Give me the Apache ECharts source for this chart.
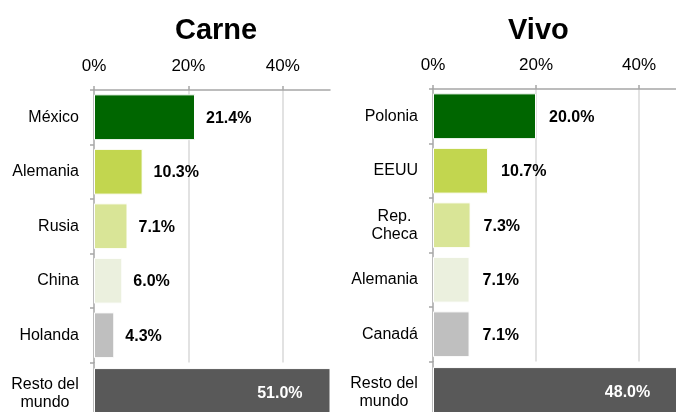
<!DOCTYPE html>
<html>
<head>
<meta charset="utf-8">
<script src="https://cdn.jsdelivr.net/npm/echarts@6/dist/echarts.min.js"></script>
<style>html,body{margin:0;padding:0;background:#fff}#c{width:676px;height:412px}</style>
</head>
<body>
<div id="c"></div>
<script>
// ---- data ----
const carneTitle = 'Carne';
const vivoTitle = 'Vivo';
const carneCategories = ['México', 'Alemania', 'Rusia', 'China', 'Holanda', 'Resto del\nmundo'];
const carneValues = [21.4, 10.3, 7.1, 6.0, 4.3, 51.0];
const vivoCategories = ['Polonia', 'EEUU', 'Rep.\nCheca', 'Alemania', 'Canadá', 'Resto del\nmundo'];
const vivoValues = [20.0, 10.7, 7.3, 7.1, 7.1, 48.0];
const axisTicks = [0, 20, 40];
const axisMax = 50;

// ---- styles ----
const FONT = '"Liberation Sans", Arial, sans-serif';
const palette = ['#006600', '#c2d64f', '#d9e597', '#ebf0de', '#bfbfbf'];
const restColor = '#595959';
const axisGray = '#a6a6a6';

const ctx = document.createElement('canvas').getContext('2d');
ctx.font = '16px ' + FONT;
const rich = {};
function catFormatter(v) {
  if (v.indexOf('\n') < 0) return v;
  const lines = v.split('\n');
  const w = Math.ceil(Math.max.apply(null, lines.map(l => ctx.measureText(l).width)));
  const key = 'w' + w;
  rich[key] = {width: w, align: 'center', fontSize: 16, fontFamily: FONT, color: '#000', lineHeight: 18};
  return lines.map(l => '{' + key + '|' + l + '}').join('\n');
}
// pre-build rich styles
carneCategories.concat(vivoCategories).forEach(catFormatter);

const grids = [
  {left: 94, top: 90, width: 236, height: 272.5},
  {left: 94, top: 362.5, width: 236, height: 62},
  {left: 433, top: 89, width: 257.5, height: 272.5},
  {left: 433, top: 361.5, width: 257.5, height: 62}
].map(g => Object.assign(g, {outerBoundsMode: 'none', containLabel: false}));

function xAxis(gi, visible) {
  return {
    type: 'value', gridIndex: gi, min: 0, max: axisMax, interval: 20, position: 'top',
    show: visible,
    axisLine: {show: true, onZero: false, lineStyle: {color: axisGray, width: 1.5}},
    axisTick: {show: true, length: 4, customValues: axisTicks, lineStyle: {color: axisGray, width: 1.5}},
    axisLabel: {show: true, customValues: axisTicks, formatter: '{value}%', margin: 15,
      fontSize: 17, fontFamily: FONT, color: '#000'},
    splitLine: {show: visible, showMinLine: false, lineStyle: {color: '#d9d9d9', width: 1.5}}
  };
}
function yAxis(gi, cats) {
  return {
    type: 'category', gridIndex: gi, data: cats, inverse: true,
    axisLine: {show: true, onZero: false, lineStyle: {color: axisGray, width: 1.5}},
    axisTick: {show: true, length: 4, lineStyle: {color: axisGray, width: 1.5}},
    axisLabel: {margin: 15, fontSize: 16, fontFamily: FONT, color: '#000', lineHeight: 18,
      formatter: catFormatter, rich: rich},
    splitLine: {show: false}
  };
}
function topSeries(ai, vals, dist) {
  return {
    type: 'bar', xAxisIndex: ai, yAxisIndex: ai, barCategoryGap: '16%',
    data: vals.slice(0, 5).map((v, i) => ({value: v, itemStyle: {color: palette[i]}})),
    itemStyle: {borderColor: '#fff', borderWidth: 1},
    label: {show: true, position: 'right', distance: dist, formatter: p => p.value.toFixed(1) + '%',
      fontSize: 16, fontWeight: 'bold', fontFamily: FONT, color: '#000', offset: [0, 1]},
    animation: false
  };
}
function restSeries(ai, vals, dist) {
  return {
    type: 'bar', xAxisIndex: ai, yAxisIndex: ai, barCategoryGap: '18%', clip: true,
    data: vals.slice(5).map(v => ({value: v, itemStyle: {color: restColor}})),
    itemStyle: {borderColor: '#fff', borderWidth: 1},
    label: {show: true, position: 'insideRight', distance: dist, formatter: p => p.value.toFixed(1) + '%',
      fontSize: 16, fontWeight: 'bold', fontFamily: FONT, color: '#fff'},
    animation: false
  };
}

const option = {
  backgroundColor: '#fff',
  animation: false,
  title: [
    {text: carneTitle, left: 170, top: 11, textStyle: {fontSize: 29, fontWeight: 'bold', fontFamily: FONT, color: '#000'}},
    {text: vivoTitle, left: 503, top: 11, textStyle: {fontSize: 29, fontWeight: 'bold', fontFamily: FONT, color: '#000'}}
  ],
  grid: grids,
  xAxis: [xAxis(0, true), xAxis(1, false), xAxis(2, true), xAxis(3, false)],
  yAxis: [
    yAxis(0, carneCategories.slice(0, 5)), yAxis(1, carneCategories.slice(5)),
    yAxis(2, vivoCategories.slice(0, 5)), yAxis(3, vivoCategories.slice(5))
  ],
  series: [
    topSeries(0, carneValues, 11), restSeries(1, carneValues, 28),
    topSeries(2, vivoValues, 13), restSeries(3, vivoValues, 30)
  ]
};
const chart = echarts.init(document.getElementById('c'), null, {renderer: 'canvas'});
chart.setOption(option);
</script>
</body>
</html>
